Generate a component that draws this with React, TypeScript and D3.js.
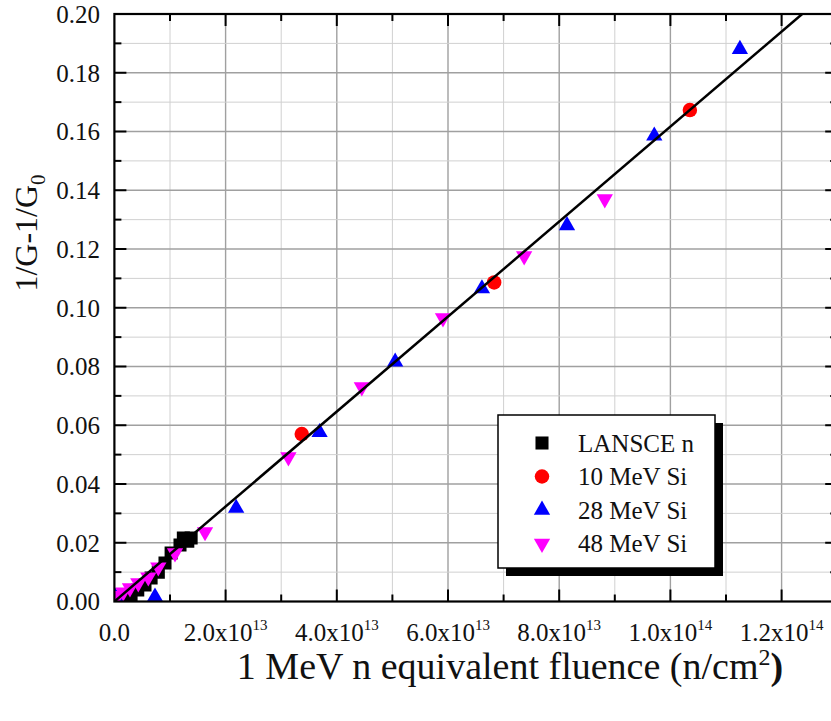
import React from "react";
import * as d3 from "d3";

// ---- data (x in units of 1e13 n/cm^2) ----
const lanX = [0.19, 0.30, 0.42, 0.55, 0.66, 0.79, 0.91, 1.02, 1.18, 1.24, 1.32, 1.38];
const lanY = [0.0012, 0.0022, 0.0039, 0.0056, 0.008, 0.010, 0.0131, 0.0165, 0.0192, 0.0216, 0.0205, 0.0216];
const si10X = [3.37, 6.83, 10.35];
const si10Y = [0.057, 0.1086, 0.1673];
const si28X = [0.02, 0.73, 2.19, 3.69, 5.05, 6.61, 8.14, 9.71, 11.25];
const si28Y = [0.0015, 0.0016, 0.0318, 0.0576, 0.0816, 0.1065, 0.128, 0.1585, 0.188];
const si48X = [0.06, 0.16, 0.28, 0.43, 0.61, 0.79, 1.09, 1.63, 3.13, 4.45, 5.91, 7.37, 8.82];
const si48Y = [0.002, 0.0032, 0.0046, 0.0063, 0.0083, 0.0117, 0.0165, 0.0237, 0.0492, 0.073, 0.0965, 0.1176, 0.137];
const fitSlope = 0.2 / 12.37; // per 1e13
const fitIntercept = 0;

const xTickVals = [0, 2, 4, 6, 8, 10, 12];
const xTickMain = ["0.0", "2.0x10", "4.0x10", "6.0x10", "8.0x10", "1.0x10", "1.2x10"];
const xTickExp = ["", "13", "13", "13", "13", "14", "14"];
const yTickVals = [0, 0.02, 0.04, 0.06, 0.08, 0.1, 0.12, 0.14, 0.16, 0.18, 0.2];
const legendLabels = ["LANSCE n", "10 MeV Si", "28 MeV Si", "48 MeV Si"];

const FONT = "Liberation Serif, DejaVu Serif, serif";
const L = 114.4, R = 837.2, T = 14, B = 601.5;

export default function App() {
  const x = d3.scaleLinear().domain([0, 13]).range([L, R]);
  const y = d3.scaleLinear().domain([0, 0.2]).range([B, T]);

  const sq = d3.symbol(d3.symbolSquare, 170)()!;
  const circ = d3.symbol(d3.symbolCircle, 165)()!;
  const tri = d3.symbol(d3.symbolTriangle, 115)()!;

  const minorX = d3.range(1, 13, 1);
  const minorY = d3.range(1, 20, 1).map((d) => d * 0.01);

  const fitEnd = (0.2 - fitIntercept) / fitSlope;
  const linePath = d3.line<number>()
    .x((d) => x(d))
    .y((d) => y(fitIntercept + fitSlope * d))([0, fitEnd])!;

  const series = [
    { xs: lanX, ys: lanY, path: sq, color: "#000000", rot: 0 },
    { xs: si10X, ys: si10Y, path: circ, color: "#ff0000", rot: 0 },
    { xs: si28X, ys: si28Y, path: tri, color: "#0000ff", rot: 0 },
    { xs: si48X, ys: si48Y, path: tri, color: "#ff00ff", rot: 180 },
  ];

  const lgX = 498, lgY = 415, lgW = 217, lgH = 153;
  const txt = { fontFamily: FONT };

  return (
    <svg width={831} height={721} style={{ position: "absolute", left: 0, top: 0, background: "#fff", fontFamily: FONT }}>
      <defs>
        <clipPath id="plotclip">
          <rect x={L} y={T} width={R - L} height={B - T} />
        </clipPath>
      </defs>
      <rect x={0} y={0} width={831} height={721} fill="#fff" />
      {/* grid */}
      {minorX.map((v) => (
        <line key={"gx" + v} x1={x(v)} x2={x(v)} y1={T} y2={B}
          stroke={v % 2 === 0 ? "#a0a0a0" : "#d0d0d0"} strokeWidth={v % 2 === 0 ? 1.4 : 1} />
      ))}
      {minorY.map((v, i) => (
        <line key={"gy" + i} x1={L} x2={R} y1={y(v)} y2={y(v)}
          stroke={(i + 1) % 2 === 0 ? "#a0a0a0" : "#d0d0d0"} strokeWidth={(i + 1) % 2 === 0 ? 1.4 : 1} />
      ))}
      {/* markers */}
      <g clipPath="url(#plotclip)">
        {series.map((s, si) =>
          s.xs.map((xv, i) => (
            <path key={si + "-" + i} d={s.path} fill={s.color}
              transform={`translate(${x(xv)},${y(s.ys[i])}) rotate(${s.rot})`} />
          ))
        )}
        <path d={linePath} stroke="#000" strokeWidth={2.5} fill="none" />
      </g>
      {/* ticks */}
      {d3.range(1, 13, 1).map((v) => {
        const len = v % 2 === 0 ? 12 : 7;
        return (
          <g key={"tx" + v}>
            <line x1={x(v)} x2={x(v)} y1={B} y2={B - len} stroke="#000" strokeWidth={2} />
            <line x1={x(v)} x2={x(v)} y1={T} y2={T + len} stroke="#000" strokeWidth={2} />
          </g>
        );
      })}
      {minorY.map((v, i) => {
        const len = (i + 1) % 2 === 0 ? 12 : 7;
        return (
          <g key={"ty" + i}>
            <line x1={L} x2={L + len} y1={y(v)} y2={y(v)} stroke="#000" strokeWidth={2} />
            <line x1={R} x2={R - len} y1={y(v)} y2={y(v)} stroke="#000" strokeWidth={2} />
          </g>
        );
      })}
      <rect x={L} y={T} width={R - L} height={B - T} fill="none" stroke="#000" strokeWidth={2.2} />
      {/* y tick labels */}
      {yTickVals.map((v) => (
        <text key={"yl" + v} x={100} y={y(v)} dy="0.35em" textAnchor="end" fontSize={25} fill="#111" style={txt}>
          {v.toFixed(2)}
        </text>
      ))}
      {/* x tick labels */}
      {xTickVals.map((v, i) => (
        <text key={"xl" + v} x={x(v)} y={641} textAnchor="middle" fontSize={25} fill="#111" style={txt}>
          {xTickMain[i]}
          {xTickExp[i] && (
            <tspan fontSize={15} dy={-11}>{xTickExp[i]}</tspan>
          )}
        </text>
      ))}
      {/* axis titles */}
      <text x={510} y={679} textAnchor="middle" fontSize={38} fill="#111" style={txt}>
        1 MeV n equivalent fluence (n/cm
        <tspan fontSize={24} dy={-14}>2</tspan>
        <tspan dy={14} fontWeight="bold">)</tspan>
      </text>
      <text transform="translate(37,233) rotate(-90)" textAnchor="middle" fontSize={32} fill="#111" style={txt}>
        1/G-1/G<tspan fontSize={21} dy={8}>0</tspan>
      </text>
      {/* legend */}
      <rect x={lgX + 8} y={lgY + 8} width={lgW} height={lgH} fill="#000" />
      <rect x={lgX} y={lgY} width={lgW} height={lgH} fill="#fff" stroke="#000" strokeWidth={1.5} />
      {legendLabels.map((lab, i) => {
        const s = series[i];
        const cy = 443 + i * 33.5;
        return (
          <g key={"lg" + i}>
            <path d={s.path} fill={s.color} transform={`translate(542,${cy}) rotate(${s.rot})`} />
            <text x={578} y={cy} dy="0.35em" fontSize={25} fill="#111" style={txt}>{lab}</text>
          </g>
        );
      })}
    </svg>
  );
}
